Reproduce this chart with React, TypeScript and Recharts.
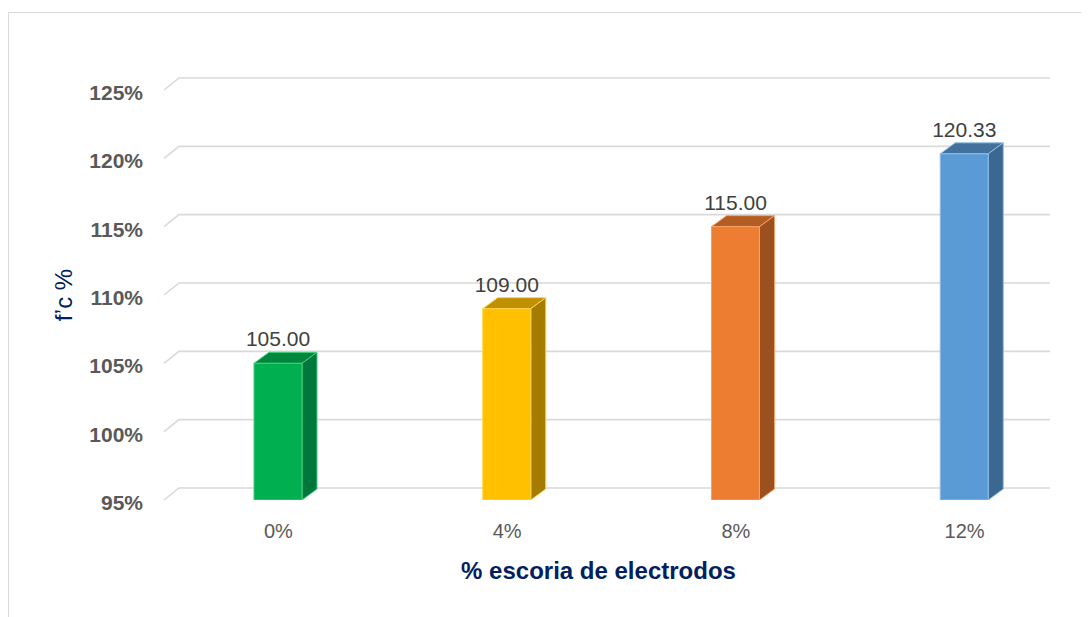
import React from "react";
import { BarChart, Bar, XAxis, YAxis, CartesianGrid, LabelList } from "recharts";

const categories = ["0%", "4%", "8%", "12%"];
const values = [105.0, 109.0, 115.0, 120.33];
const valueLabels = ["105.00", "109.00", "115.00", "120.33"];
const yTicks = [95, 100, 105, 110, 115, 120, 125];
const frontColors = ["#00B050", "#FFC000", "#ED7D31", "#5B9BD5"];
const topColors = ["#00873C", "#C09000", "#B35D22", "#41719C"];
const sideColors = ["#00773A", "#A67C00", "#9C5020", "#3B6790"];
const edgeColors = ["#3FD07F", "#FFD24D", "#F4A06A", "#8CBCE6"];

const data = categories.map((c, i) => ({ cat: c, value: values[i], label: valueLabels[i], idx: i }));

const DX = 15;
const DY = -11;
const GRID_DX = 15;
const GRID_DY = -12;

const Box3D = (props: any) => {
  const { x, y, width, height, payload } = props;
  const i = payload.idx;
  const w = width;
  const h = height;
  const edge = edgeColors[i];
  return (
    <g>
      <polygon
        points={`${x},${y} ${x + DX},${y + DY} ${x + w + DX},${y + DY} ${x + w},${y}`}
        fill={topColors[i]}
        stroke={edge}
        strokeWidth={1}
        strokeLinejoin="round"
      />
      <polygon
        points={`${x + w},${y} ${x + w + DX},${y + DY} ${x + w + DX},${y + h + DY} ${x + w},${y + h}`}
        fill={sideColors[i]}
        stroke={edge}
        strokeWidth={1}
        strokeLinejoin="round"
      />
      <rect x={x} y={y} width={w} height={h} fill={frontColors[i]} stroke={edge} strokeWidth={1} />
    </g>
  );
};

const gridLine = (props: any) => {
  const { x1, y1, x2, key } = props;
  const d = `M ${x1} ${y1} L ${x1 + GRID_DX} ${y1 + GRID_DY} L ${x2 - 29} ${y1 + GRID_DY}`;
  return <path key={key} d={d} fill="none" stroke="#D9D9D9" strokeWidth={1.6} />;
};

const XTick = (props: any) => {
  const { x, y, payload } = props;
  return (
    <text x={x} y={y + 38} textAnchor="middle" fontSize={20} fill="#595959" fontFamily="'Liberation Sans', Arial, sans-serif">
      {payload.value}
    </text>
  );
};

const YTick = (props: any) => {
  const { x, y, payload } = props;
  return (
    <text x={x - 21} y={y + 10} textAnchor="end" fontSize={21} fontWeight="bold" fill="#595959" fontFamily="'Liberation Sans', Arial, sans-serif">
      {`${payload.value}%`}
    </text>
  );
};

const renderValueLabel = (props: any) => {
  const { x, y, width, index } = props;
  return (
    <text x={x + width / 2} y={y - 17} textAnchor="middle" fontSize={21} fill="#404040" fontFamily="'Liberation Sans', Arial, sans-serif">
      {valueLabels[index]}
    </text>
  );
};

const YTitle = (props: any) => {
  const vb = props.viewBox || {};
  const cx = (vb.x || 0) + 55;
  const cy = (vb.y || 0) + (vb.height || 0) / 2;
  return (
    <text
      x={cx}
      y={cy}
      transform={`rotate(-90, ${cx}, ${cy})`}
      textAnchor="middle"
      dominantBaseline="central"
      fontSize={24}
      fill="#002060"
      fontFamily="'Liberation Sans', Arial, sans-serif"
    >
      f’c %
    </text>
  );
};

const XTitle = (props: any) => {
  const vb = props.viewBox || {};
  const cx = (vb.x || 0) + (vb.width || 0) / 2 - 23;
  const cy = (vb.y || 0) + 79;
  return (
    <text x={cx} y={cy} textAnchor="middle" fontSize={24} fontWeight="bold" fill="#002060" fontFamily="'Liberation Sans', Arial, sans-serif">
      % escoria de electrodos
    </text>
  );
};

export default function App() {
  return (
    <div style={{ position: "relative", width: 1081, height: 609, overflow: "hidden", background: "#FFFFFF" }}>
      <style>{`html, body { overflow: hidden; background: #FFFFFF; }`}</style>
      <div style={{ position: "absolute", left: 0, top: 4, width: 1081, height: 1, background: "#D9D9D9" }} />
      <div style={{ position: "absolute", left: 0, top: 4, width: 1, height: 605, background: "#D9D9D9" }} />
      <div style={{ position: "absolute", left: 0, top: 0 }}>
        <BarChart width={1073} height={601} data={data} margin={{ top: 82, right: 2, bottom: 0, left: 0 }}>
          <CartesianGrid vertical={false} horizontal={gridLine} />
          <XAxis
            dataKey="cat"
            axisLine={false}
            tickLine={false}
            tickSize={0}
            tickMargin={0}
            height={109}
            tick={<XTick />}
            interval={0}
            label={<XTitle />}
          />
          <YAxis
            domain={[95, 125]}
            ticks={yTicks}
            allowDataOverflow
            axisLine={false}
            tickLine={false}
            tickSize={0}
            tickMargin={0}
            width={156}
            tick={<YTick />}
            label={<YTitle />}
          />
          <Bar dataKey="value" barSize={48} shape={<Box3D />} isAnimationActive={false}>
            <LabelList dataKey="value" content={renderValueLabel} />
          </Bar>
        </BarChart>
      </div>
    </div>
  );
}
